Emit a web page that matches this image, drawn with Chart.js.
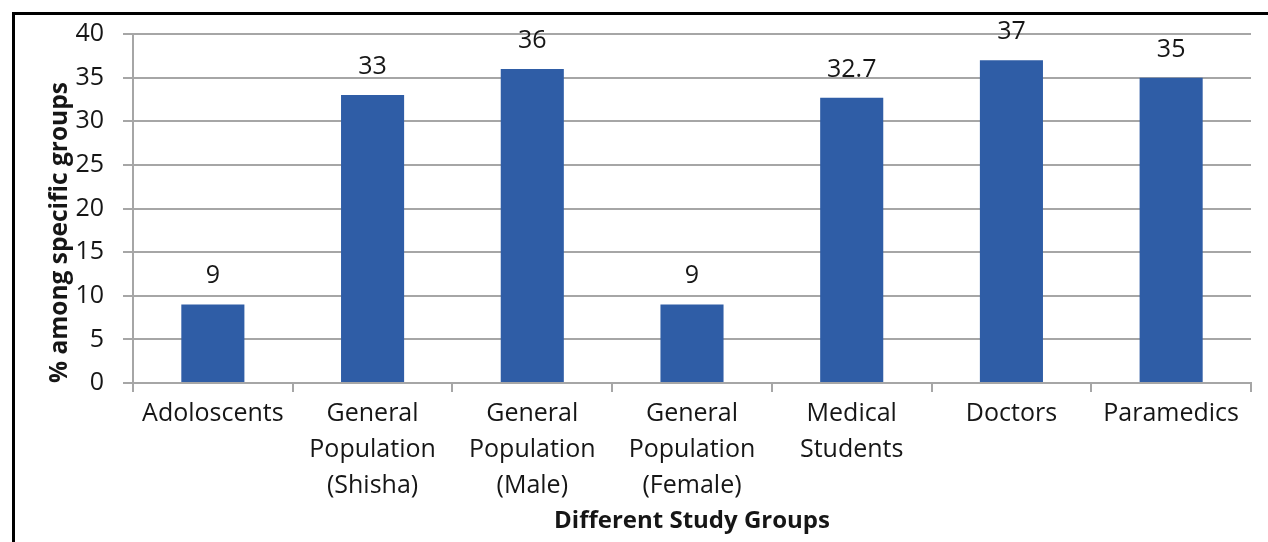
<!DOCTYPE html>
<html>
<head>
<meta charset="utf-8">
<script src="https://cdn.jsdelivr.net/npm/chart.js@4.4.1/dist/chart.umd.min.js"></script>
<style>
  html, body { margin: 0; padding: 0; background: #fff; }
  #wrap { position: relative; width: 1268px; height: 542px; overflow: hidden; }
  #frame { position: absolute; left: 12px; top: 12px; width: 1300px; height: 600px;
           border-top: 3px solid #000; border-left: 3px solid #000; pointer-events: none; }
</style>
</head>
<body>
<div id="wrap">
  <canvas id="c" width="1268" height="542"></canvas>
  <div id="frame"></div>
</div>
<script>
const categories = [
  ["Adoloscents"],
  ["General", "Population", "(Shisha)"],
  ["General", "Population", "(Male)"],
  ["General", "Population", "(Female)"],
  ["Medical", "Students"],
  ["Doctors"],
  ["Paramedics"]
];
const values = [9, 33, 36, 9, 32.7, 37, 35];
const valueLabels = ["9", "33", "36", "9", "32.7", "37", "35"];
const yMin = 0, yMax = 40, yStep = 5;
const xTitle = "Different Study Groups";
const yTitle = "% among specific groups";

const FONT = "'Open Sans', 'DejaVu Sans', sans-serif";
const TEXT = "#161616";
const GRID = "#a6a6a6";
const BAR = "#2f5da6";

const valueLabelPlugin = {
  id: 'valueLabels',
  afterDatasetsDraw(chart) {
    const ctx = chart.ctx;
    const meta = chart.getDatasetMeta(0);
    ctx.save();
    ctx.font = "25px " + FONT;
    ctx.fillStyle = TEXT;
    ctx.textAlign = 'center';
    ctx.textBaseline = 'alphabetic';
    meta.data.forEach((bar, i) => {
      ctx.fillText(valueLabels[i], bar.x, bar.y - 21);
    });
    ctx.restore();
  }
};

new Chart(document.getElementById('c'), {
  type: 'bar',
  data: {
    labels: categories,
    datasets: [{
      data: values,
      backgroundColor: BAR,
      borderWidth: 0,
      categoryPercentage: 1.0,
      barPercentage: 0.395
    }]
  },
  options: {
    responsive: false,
    devicePixelRatio: 1,
    animation: false,
    layout: { padding: { left: 0, top: 34, right: 17, bottom: 0 } },
    plugins: {
      legend: { display: false },
      tooltip: { enabled: false }
    },
    scales: {
      x: {
        offset: true,
        grid: {
          offset: true,
          drawOnChartArea: false,
          drawTicks: true,
          tickLength: 9,
          color: GRID,
          lineWidth: 2
        },
        border: { display: true, color: GRID, width: 2 },
        ticks: {
          color: TEXT,
          padding: 4,
          maxRotation: 0,
          autoSkip: false,
          font: { family: FONT, size: 25, lineHeight: 1.44 }
        },
        title: {
          display: true,
          text: xTitle,
          color: TEXT,
          padding: { top: 6, bottom: 6 },
          font: { family: FONT, size: 24, weight: 'bold', lineHeight: 1.2 }
        },
        afterFit(scale) { scale.height = 159; }
      },
      y: {
        min: yMin,
        max: yMax,
        ticks: {
          stepSize: yStep,
          color: TEXT,
          padding: 19,
          font: { family: FONT, size: 25 }
        },
        grid: {
          color: GRID,
          lineWidth: 2,
          drawTicks: true,
          tickLength: 10
        },
        border: { display: true, color: GRID, width: 2 },
        title: {
          display: true,
          text: yTitle,
          align: 'start',
          color: TEXT,
          padding: { top: 45, bottom: 0 },
          font: { family: FONT, size: 24.5, weight: 'bold', lineHeight: 1.2 }
        },
        afterFit(scale) { scale.width = 133; }
      }
    }
  },
  plugins: [valueLabelPlugin]
});
</script>
</body>
</html>
